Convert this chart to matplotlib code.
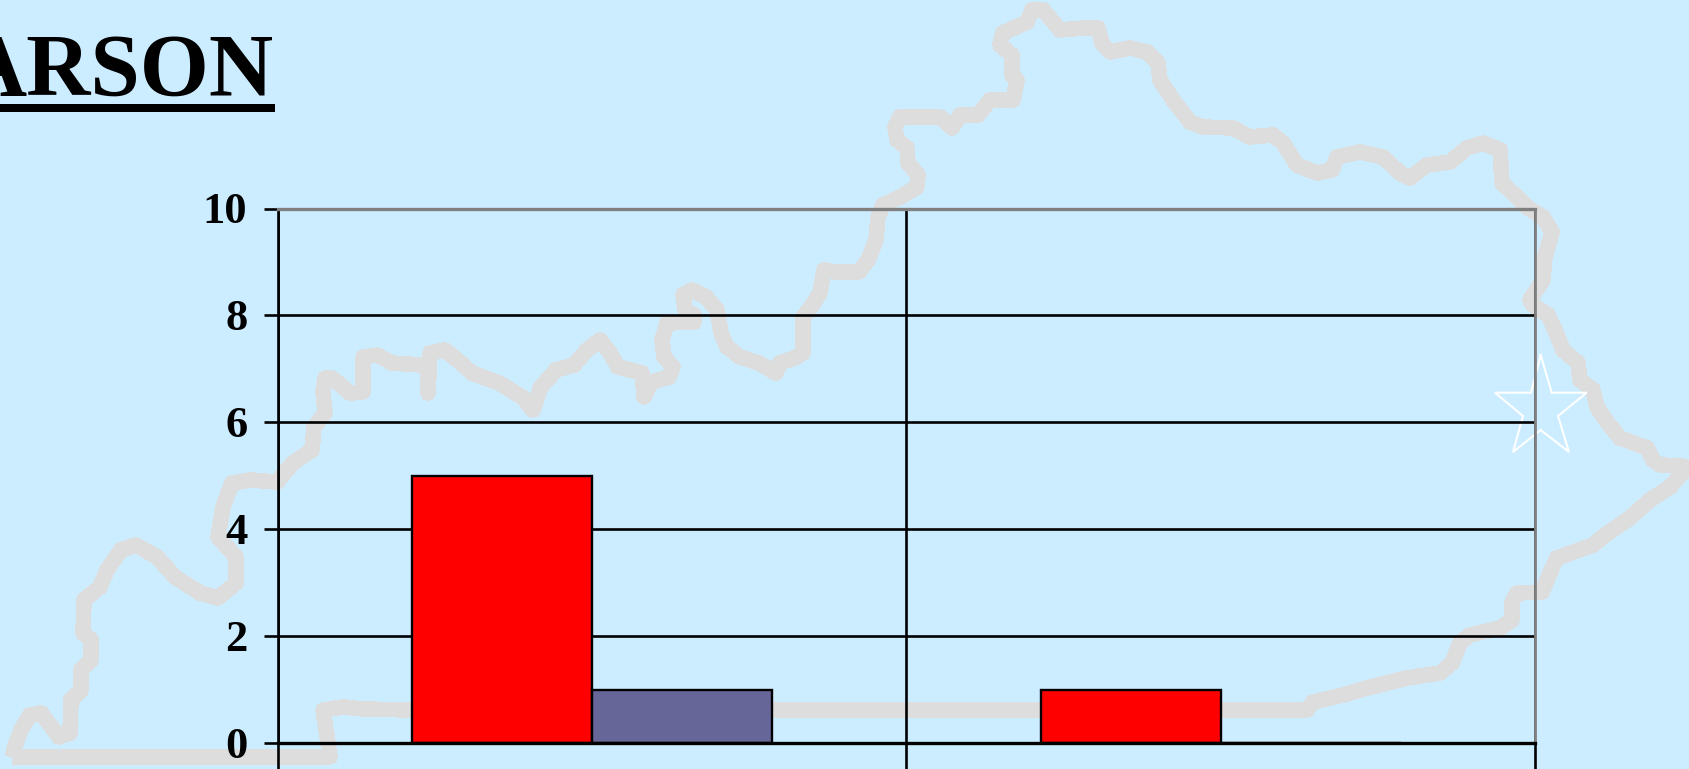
import matplotlib
matplotlib.use("Agg")
import matplotlib.pyplot as plt
from matplotlib.transforms import ScaledTranslation
import numpy as np

# values
series_red = [5, 1]
series_blue = [1, 0]
y_ticks = [0, 2, 4, 6, 8, 10]
title = "ARSON"

# state outline behind the chart, in pixels of the 1690x769 picture
outline = [
    (12, 757), (330, 757), (328, 743), (323, 710), (343, 707), (364, 709), (411, 710), (1307, 710),
    (1313, 702), (1343, 695), (1367, 688), (1407, 678), (1440, 673), (1452, 663), (1460, 643),
    (1470, 635), (1500, 628), (1512, 620), (1512, 602), (1517, 593), (1542, 592), (1550, 573),
    (1557, 558), (1593, 545), (1608, 533), (1630, 518), (1650, 500), (1670, 487), (1683, 472),
    (1683, 466), (1660, 465), (1653, 460), (1647, 448), (1620, 438), (1607, 422), (1597, 407),
    (1593, 390), (1580, 380), (1578, 363), (1563, 350), (1555, 330), (1548, 315), (1533, 305),
    (1530, 300), (1543, 280), (1545, 257), (1552, 232), (1543, 217), (1528, 208), (1517, 197),
    (1502, 183), (1500, 150), (1483, 143), (1467, 148), (1450, 162), (1427, 165), (1410, 178),
    (1400, 173), (1383, 157), (1360, 152), (1337, 157), (1332, 170), (1317, 173), (1297, 165),
    (1283, 143), (1273, 135), (1250, 137), (1233, 128), (1203, 127), (1190, 122), (1173, 100),
    (1160, 80), (1158, 63), (1147, 52), (1130, 48), (1110, 52), (1102, 43), (1098, 28), (1083, 28),
    (1060, 30), (1050, 18), (1043, 10), (1032, 10), (1027, 22), (1003, 33), (1000, 45), (1012, 55),
    (1012, 75), (1017, 80), (1013, 100), (990, 100), (978, 115), (960, 115), (952, 128), (940, 117),
    (917, 117), (900, 117), (895, 127), (897, 140), (907, 148), (908, 163), (918, 175), (917, 187),
    (900, 197), (883, 205), (878, 217), (876, 240), (868, 260), (859, 272), (836, 272), (824, 270),
    (820, 293), (811, 307), (803, 317), (803, 353), (794, 358), (780, 363), (776, 373), (759, 363),
    (740, 357), (727, 347), (721, 333), (717, 310), (706, 297), (692, 290), (683, 295), (685, 310),
    (694, 315), (694, 322), (667, 323), (662, 340), (664, 357), (673, 367), (669, 377), (652, 382),
    (644, 397), (642, 373), (618, 367), (610, 353), (600, 340), (587, 350), (574, 365), (556, 370),
    (541, 387), (533, 410), (522, 397), (499, 383), (472, 373), (461, 363), (445, 350), (430, 353),
    (428, 393), (428, 365), (422, 365), (392, 363), (377, 355), (363, 357), (363, 392), (350, 393),
    (332, 378), (325, 378), (323, 392), (325, 413), (314, 427), (312, 450), (293, 463), (277, 482),
    (250, 480), (232, 483), (223, 507), (218, 537), (236, 557), (236, 583), (218, 598), (200, 593),
    (175, 577), (157, 557), (136, 545), (121, 550), (107, 570), (100, 587), (84, 600), (83, 633),
    (91, 640), (91, 660), (81, 670), (81, 690), (71, 700), (70, 733), (59, 737), (41, 713), (30, 715),
    (21, 730), (16, 743), (12, 757),
]
star = [
    (1540.7, 355), (1551.7, 392.7), (1586.7, 392.7), (1558, 416), (1569, 452), (1540.7, 430),
    (1513, 452), (1523, 416), (1495, 392.7), (1531, 392.7), (1540.7, 355),
]

W, H = 1690, 769
bg_color = "#CCECFF"
serif = "Liberation Serif"

fig = plt.figure(figsize=(W / 100, H / 100), dpi=100, facecolor=bg_color)

# backdrop axes in pixel coordinates
bg = fig.add_axes([0, 0, 1, 1], zorder=0)
bg.set_xlim(0, W)
bg.set_ylim(H, 0)
bg.axis("off")
bg.plot(*zip(*outline), color="#DDDDDD", lw=10.5, solid_joinstyle="round", solid_capstyle="butt", antialiased=False)
bg.plot(*zip(*star), color="white", lw=1.5, solid_joinstyle="miter")
bg.text(273, 95, title, family=serif, weight="bold", fontsize=64, ha="right", va="baseline", color="black")
bg.fill_between([0, 275], 104, 112, color="black", lw=0)

# chart
left, right, top, bottom = 278, 1535, 208.5, 743
ax = fig.add_axes([left / W, 1 - bottom / H, (right - left) / W, (bottom - top) / H], zorder=1)
ax.patch.set_visible(False)

x = np.arange(len(series_red)) + 0.5
bar_width = 0.286
ax.bar(x - bar_width / 2, series_red, width=bar_width, color="#FF0000", edgecolor="black", linewidth=1.7, zorder=3)
ax.bar(x + bar_width / 2, series_blue, width=bar_width, color="#666699", edgecolor="black", linewidth=1.7, zorder=3)

ax.set_xlim(0, 2)
ax.set_ylim(0, 10)
ax.set_yticks(y_ticks)
ax.set_xticks([0, 1, 2])
ax.set_xticklabels([])
ax.set_axisbelow(True)
ax.grid(True, color="black", linewidth=1.9)
ax.tick_params(axis="y", length=10, width=1.9, pad=12, color="black")
ax.tick_params(axis="x", length=20, width=1.9, color="black")
up = ScaledTranslation(0, 1 / 100, fig.dpi_scale_trans)
for lab in ax.get_yticklabels():
    lab.set_family(serif)
    lab.set_weight("bold")
    lab.set_fontsize(32)
    lab.set_transform(lab.get_transform() + up)

ax.spines["top"].set_color("#808080")
ax.spines["top"].set_linewidth(2.4)
ax.spines["right"].set_color("#808080")
ax.spines["right"].set_linewidth(2)
ax.spines["left"].set_color("black")
ax.spines["left"].set_linewidth(1.9)
ax.spines["bottom"].set_color("black")
ax.spines["bottom"].set_linewidth(2.4)
ax.spines["bottom"].set_zorder(4)

fig.savefig("out.png", dpi=100, facecolor=bg_color)
